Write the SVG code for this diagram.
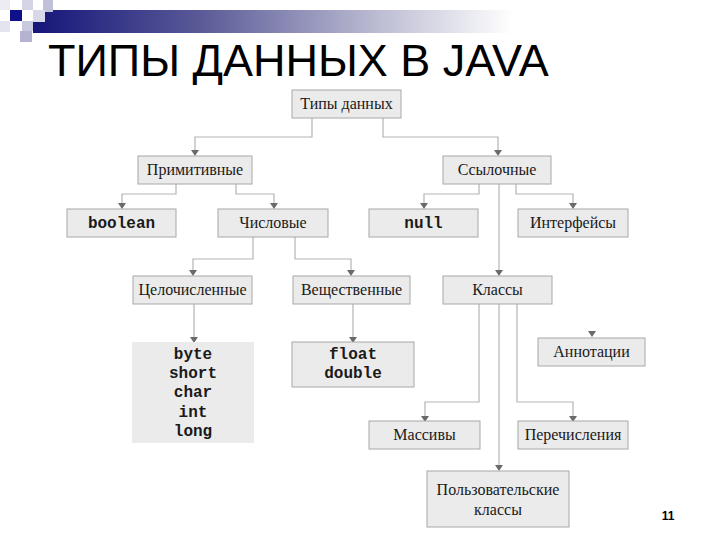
<svg xmlns="http://www.w3.org/2000/svg" width="720" height="540" viewBox="0 0 720 540">
<defs>
<linearGradient id="bar" x1="0" y1="0" x2="1" y2="0">
<stop offset="0" stop-color="#15157a"/>
<stop offset="0.35" stop-color="#5a5a98"/>
<stop offset="0.75" stop-color="#c4c4d8"/>
<stop offset="1" stop-color="#ffffff"/>
</linearGradient>
<style>
.box{fill:#ebebeb;stroke:#a8a8a8;stroke-width:1}
.nb{fill:#ebebeb;stroke:none}
.lbl{font-family:"Liberation Serif","DejaVu Serif",serif;font-size:16px;fill:#1a1a1a;text-anchor:middle}
.code{font-family:"Liberation Mono","DejaVu Sans Mono",monospace;font-size:16px;font-weight:bold;fill:#1a1a1a;text-anchor:middle}
.con{fill:none;stroke:#b4b4b4;stroke-width:1.2}
.ar{fill:#6a6a6a}
</style>
</defs>
<rect width="720" height="540" fill="#ffffff"/>
<g id="header">
<rect x="33" y="10" width="480" height="23" fill="url(#bar)"/>
<rect x="0" y="0" width="10" height="10" fill="#ececf2"/>
<rect x="22" y="0" width="11" height="10" fill="#d4d4e6"/>
<rect x="43" y="0" width="10" height="12" fill="#c0c0da"/>
<rect x="33" y="10" width="12" height="12" fill="#d8d8e8"/>
<rect x="10" y="10" width="12" height="11" fill="#10108a"/>
<rect x="0" y="21" width="10" height="11" fill="#e4e4ee"/>
<rect x="22" y="21" width="11" height="10" fill="#c8c8de"/>
<rect x="20" y="31" width="12" height="11" fill="#b4b4d2"/>
<text x="48" y="76" font-family="Liberation Sans, Arial, sans-serif" font-size="45" fill="#000">ТИПЫ ДАННЫХ В JAVA</text>
</g>
<g id="connectors">
<polyline class="con" points="312,118 312,137 195,137 195,151"/>
<polyline class="con" points="383,118 383,137 498,137 498,151"/>
<polyline class="con" points="176,184 176,194 122,194 122,204"/>
<polyline class="con" points="236,184 236,194 274,194 274,204"/>
<polyline class="con" points="479,184 479,194 424,194 424,204"/>
<polyline class="con" points="516,184 516,194 573,194 573,204"/>
<polyline class="con" points="499,184 499,271"/>
<polyline class="con" points="253,237 253,259 193,259 193,271"/>
<polyline class="con" points="295,237 295,259 351,259 351,271"/>
<polyline class="con" points="194,304 194,338"/>
<polyline class="con" points="353,304 353,338"/>
<polyline class="con" points="479,304 479,402 425,402 425,417"/>
<polyline class="con" points="517,304 517,402 573,402 573,417"/>
<polyline class="con" points="499,304 499,466"/>
<g class="ar">
<path d="M191,150 L199,150 L195,156 Z"/>
<path d="M494,150 L502,150 L498,156 Z"/>
<path d="M118,203 L126,203 L122,209 Z"/>
<path d="M270,203 L278,203 L274,209 Z"/>
<path d="M420,203 L428,203 L424,209 Z"/>
<path d="M569,203 L577,203 L573,209 Z"/>
<path d="M495,270 L503,270 L499,276 Z"/>
<path d="M189,270 L197,270 L193,276 Z"/>
<path d="M347,270 L355,270 L351,276 Z"/>
<path d="M190,337 L198,337 L194,343 Z"/>
<path d="M349,337 L357,337 L353,343 Z"/>
<path d="M588,331 L596,331 L592,337 Z"/>
<path d="M421,416 L429,416 L425,422 Z"/>
<path d="M569,416 L577,416 L573,422 Z"/>
<path d="M495,465 L503,465 L499,471 Z"/>
</g>
</g>
<g id="n-types"><rect class="box" x="292" y="90" width="109" height="28"/><text class="lbl" x="346.5" y="109">Типы данных</text></g>
<g id="n-prim"><rect class="box" x="138" y="156" width="114" height="28"/><text class="lbl" x="195" y="175">Примитивные</text></g>
<g id="n-ref"><rect class="box" x="443" y="156" width="108" height="28"/><text class="lbl" x="497" y="175">Ссылочные</text></g>
<g id="n-boolean"><rect class="box" x="67" y="209" width="109" height="28"/><text class="code" x="121.5" y="228">boolean</text></g>
<g id="n-num"><rect class="box" x="218" y="209" width="110" height="28"/><text class="lbl" x="273" y="228">Числовые</text></g>
<g id="n-null"><rect class="box" x="369" y="209" width="109" height="28"/><text class="code" x="423.5" y="228">null</text></g>
<g id="n-iface"><rect class="box" x="518" y="209" width="110" height="28"/><text class="lbl" x="573" y="228">Интерфейсы</text></g>
<g id="n-int"><rect class="box" x="133" y="276" width="119" height="28"/><text class="lbl" x="192.5" y="295">Целочисленные</text></g>
<g id="n-real"><rect class="box" x="293" y="276" width="117" height="28"/><text class="lbl" x="351.5" y="295">Вещественные</text></g>
<g id="n-classes"><rect class="box" x="443" y="276" width="109" height="28"/><text class="lbl" x="497.5" y="295">Классы</text></g>
<g id="n-inttypes"><rect class="nb" x="132" y="342" width="122" height="101"/>
<text class="code" x="193" y="359">byte</text><text class="code" x="193" y="378">short</text><text class="code" x="193" y="397">char</text><text class="code" x="193" y="417">int</text><text class="code" x="193" y="436">long</text></g>
<g id="n-realtypes"><rect class="box" x="292" y="342" width="122" height="45"/>
<text class="code" x="353" y="359">float</text><text class="code" x="353" y="378">double</text></g>
<g id="n-annot"><rect class="box" x="538" y="338" width="107" height="28"/><text class="lbl" x="591.5" y="357">Аннотации</text></g>
<g id="n-arrays"><rect class="box" x="369" y="421" width="111" height="28"/><text class="lbl" x="424.5" y="440">Массивы</text></g>
<g id="n-enums"><rect class="box" x="518" y="421" width="110" height="28"/><text class="lbl" x="573" y="440">Перечисления</text></g>
<g id="n-user"><rect class="box" x="427" y="471" width="142" height="56"/><text class="lbl" x="498" y="495">Пользовательские</text><text class="lbl" x="498" y="515">классы</text></g>
<text x="668" y="520" font-family="Liberation Sans, Arial, sans-serif" font-size="12" font-weight="bold" fill="#000" text-anchor="middle">11</text>
</svg>
